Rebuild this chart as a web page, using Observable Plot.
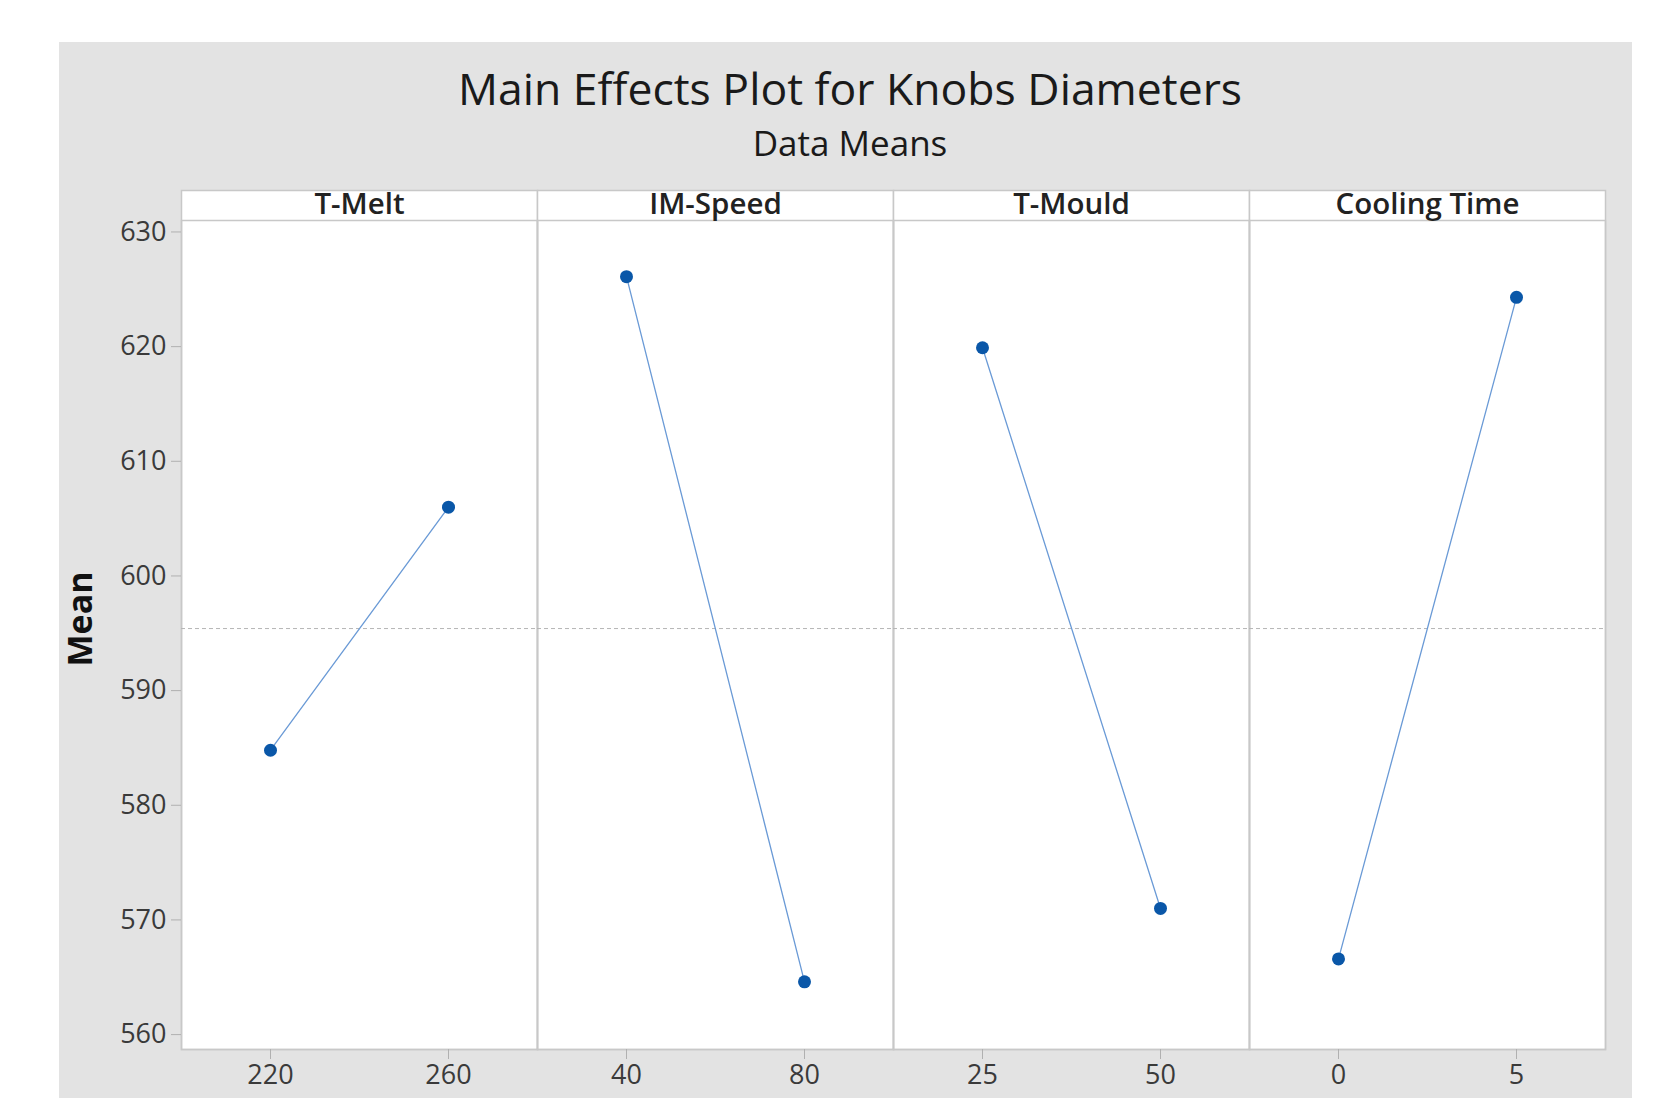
<!DOCTYPE html>
<html>
<head>
<meta charset="utf-8">
<script src="https://cdn.jsdelivr.net/npm/d3@7"></script>
<script src="https://cdn.jsdelivr.net/npm/@observablehq/plot@0.6"></script>
<style>
  body { margin: 0; background: #ffffff; font-family: "Open Sans", sans-serif; }
  #wrap { position: relative; width: 1666px; height: 1098px; overflow: hidden; }
  #panel { position: absolute; left: 59px; top: 42px; width: 1573px; height: 1056px; background: #e3e3e3; }
  .t { position: absolute; left: 0; width: 1700px; text-align: center; white-space: nowrap; color: #1a1a1a; line-height: 1; font-weight: 500; }
  #title { top: 65.5px; font-size: 44.5px; }
  #sub { top: 125px; font-size: 35px; }
  #chart svg { position: absolute; left: 0; top: 0; }
</style>
</head>
<body>
<div id="wrap">
  <div id="panel"></div>
  <div class="t" id="title">Main Effects Plot for Knobs Diameters</div>
  <div class="t" id="sub">Data Means</div>
  <div id="chart"></div>
</div>
<script>
// Data
const factors = ["T-Melt", "IM-Speed", "T-Mould", "Cooling Time"];
const lowLevels = ["220", "40", "25", "0"];
const highLevels = ["260", "80", "50", "5"];
const lowMeans = [584.8, 626.1, 619.9, 566.6];
const highMeans = [606.0, 564.6, 571.0, 624.3];
const yTicks = [560, 570, 580, 590, 600, 610, 620, 630];
const yLabel = "Mean";

const rows = factors.flatMap((f, i) => [
  {factor: f, pos: "low", level: lowLevels[i], mean: lowMeans[i]},
  {factor: f, pos: "high", level: highLevels[i], mean: highMeans[i]}
]);
const grandMean = d3.mean(rows, d => d.mean);

const chart = Plot.plot({
  width: 1666,
  height: 1098,
  marginLeft: 179,
  marginRight: 60,
  marginTop: 220,
  marginBottom: 49,
  style: {background: "transparent", fontFamily: "'Open Sans', sans-serif", fontSize: "27px", color: "#333"},
  fx: {domain: factors, padding: 0, label: null},
  x: {type: "point", domain: ["low", "high"], padding: 0.5, label: null},
  y: {domain: [558.7, 631.0], label: null},
  marks: [
    Plot.frame({fill: "white", stroke: "#c8c8c8", strokeWidth: 1.5, insetTop: -30}),
    Plot.frame({stroke: "#c8c8c8", strokeWidth: 1.5}),
    Plot.ruleY([grandMean], {stroke: "#b5b5b5", strokeWidth: 1, strokeDasharray: "4,3"}),
    Plot.axisFx({anchor: "top", label: null, tickSize: 0, tickPadding: 16, lineAnchor: "middle", fontSize: 29.5, fontWeight: 600, fill: "#222"}),
    Plot.axisY({ticks: yTicks, tickSize: 10, tickPadding: 5, stroke: "#b0b0b0", fill: "#3a3a3a", fontSize: 27, label: null}),
    Plot.axisX({tickSize: 10, tickFormat: () => "", stroke: "#b0b0b0", label: null}),
    Plot.text([yLabel], {fx: () => factors[0], text: d => d, frameAnchor: "left", textAnchor: "middle", rotate: -90, dx: -100, dy: -16, fontSize: 34, fontWeight: 700, fill: "#111"}),
    Plot.text(rows, {fx: "factor", x: "pos", text: "level", frameAnchor: "bottom", lineAnchor: "top", dy: 15, fontSize: 27, fill: "#3a3a3a"}),
    Plot.line(rows, {fx: "factor", x: "pos", y: "mean", stroke: "#6a9ad6", strokeWidth: 1.3}),
    Plot.dot(rows, {fx: "factor", x: "pos", y: "mean", r: 6.5, fill: "#0a57a8"})
  ]
});
document.getElementById("chart").appendChild(chart);
</script>
</body>
</html>
